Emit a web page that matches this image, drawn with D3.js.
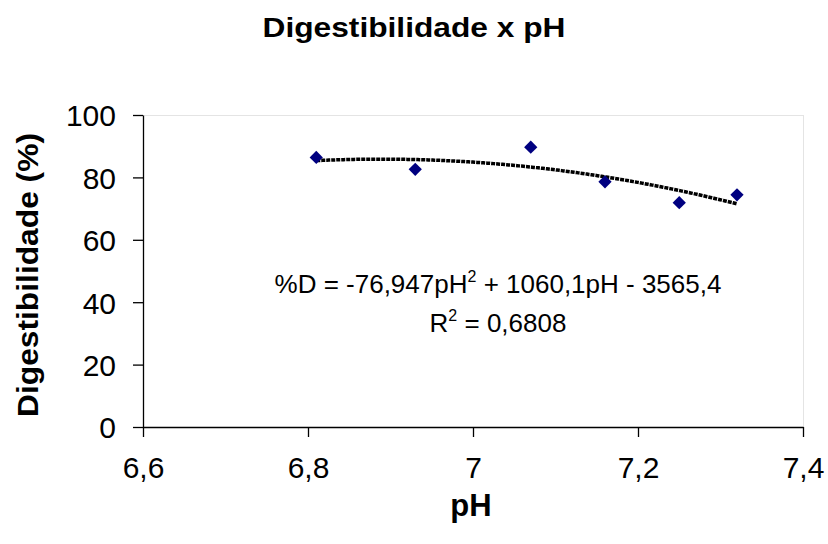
<!DOCTYPE html>
<html>
<head>
<meta charset="utf-8">
<script src="https://cdn.jsdelivr.net/npm/d3@7/dist/d3.min.js"></script>
<style>
  html, body { margin: 0; padding: 0; background: #fff; }
  svg { display: block; font-family: "Liberation Sans", Arial, sans-serif; }
</style>
</head>
<body>
<svg id="chart" width="828" height="544"></svg>
<script>
// Data
const pH = [6.81, 6.93, 7.07, 7.16, 7.25, 7.32];
const digestibilidade = [86.4, 82.6, 89.7, 78.6, 71.9, 74.4];
// Polynomial trendline coefficients shown on the chart: a*x^2 + b*x + c
const trendCoef = [-76.947, 1060.1, -3565.4];
const rSquared = "0,6808";
const xTicks = [6.6, 6.8, 7.0, 7.2, 7.4];
const yTicks = [0, 20, 40, 60, 80, 100];

const svg = d3.select("#chart");
const m = { left: 143, right: 803, top: 115, bottom: 427 };

const x = d3.scaleLinear().domain([6.6, 7.4]).range([m.left, m.right]);
const y = d3.scaleLinear().domain([0, 100]).range([m.bottom, m.top]);
const fmt = d => String(+d.toFixed(1)).replace(".", ",");

// Plot border (light top/right)
svg.append("line").attr("x1", m.left).attr("x2", m.right).attr("y1", m.top + 0.5).attr("y2", m.top + 0.5)
  .attr("stroke", "#e4e4e4").attr("stroke-width", 1);
svg.append("line").attr("x1", m.right + 0.5).attr("x2", m.right + 0.5).attr("y1", m.top).attr("y2", m.bottom)
  .attr("stroke", "#e4e4e4").attr("stroke-width", 1);

// Axes
const xAxis = svg.append("g").attr("transform", `translate(0,${m.bottom})`)
  .call(d3.axisBottom(x).tickValues(xTicks).tickFormat(fmt).tickSize(10).tickSizeOuter(0).tickPadding(14));
const yAxis = svg.append("g").attr("transform", `translate(${m.left},0)`)
  .call(d3.axisLeft(y).tickValues(yTicks).tickFormat(d => d).tickSize(10).tickSizeOuter(0).tickPadding(17));
[xAxis, yAxis].forEach(g => {
  g.select(".domain").attr("stroke", "#000").attr("stroke-width", 1.3);
  g.selectAll(".tick line").attr("stroke", "#000").attr("stroke-width", 1.3);
  g.selectAll(".tick text").attr("fill", "#000").style("font-size", "30px")
    .style("font-family", "'Liberation Sans', Arial, sans-serif");
});
xAxis.selectAll(".tick text").attr("dy", "0.9em");
yAxis.selectAll(".tick text").attr("dy", "0.36em");

// Trendline
const xs = d3.range(200).map(i => pH[0] + (pH[pH.length - 1] - pH[0]) * i / 199);
const poly = v => trendCoef[0] * v * v + trendCoef[1] * v + trendCoef[2];
svg.append("path")
  .datum(xs)
  .attr("fill", "none")
  .attr("stroke", "#000")
  .attr("stroke-width", 3.5)
  .attr("stroke-dasharray", "4,1")
  .attr("d", d3.line().x(d => x(d)).y(d => y(poly(d))));

// Markers
svg.append("g").selectAll("path").data(pH).join("path")
  .attr("d", d3.symbol().type(d3.symbolSquare).size(88))
  .attr("transform", (d, i) => `translate(${x(d)},${y(digestibilidade[i])}) rotate(45)`)
  .attr("fill", "#000080");

// Equation label
const eq = svg.append("text").attr("x", 498).attr("y", 293).attr("text-anchor", "middle")
  .style("font-size", "26px").attr("fill", "#000");
eq.append("tspan").text("%D = -76,947pH");
eq.append("tspan").text("2").attr("dy", -11).style("font-size", "16px");
eq.append("tspan").text(" + 1060,1pH - 3565,4").attr("dy", 11);
const r2 = svg.append("text").attr("x", 498).attr("y", 332).attr("text-anchor", "middle")
  .style("font-size", "26px").attr("fill", "#000");
r2.append("tspan").text("R");
r2.append("tspan").text("2").attr("dy", -11).style("font-size", "16px");
r2.append("tspan").text(" = " + rSquared).attr("dy", 11);

// Title
svg.append("text").attr("x", 414).attr("y", 37).attr("text-anchor", "middle")
  .attr("textLength", 303).attr("lengthAdjust", "spacingAndGlyphs")
  .style("font-size", "27px").style("font-weight", "bold").text("Digestibilidade x pH");

// Axis titles
svg.append("text").attr("x", 471).attr("y", 516).attr("text-anchor", "middle")
  .style("font-size", "31px").style("font-weight", "bold").text("pH");
svg.append("text").attr("transform", "translate(38,275) rotate(-90)").attr("text-anchor", "middle")
  .attr("textLength", 284).attr("lengthAdjust", "spacingAndGlyphs")
  .style("font-size", "29px").style("font-weight", "bold").text("Digestibilidade (%)");
</script>
</body>
</html>
